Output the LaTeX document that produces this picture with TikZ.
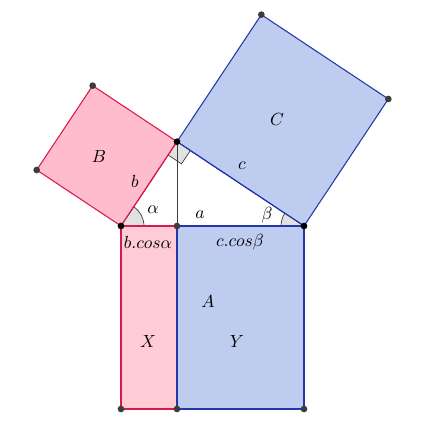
\documentclass[tikz,border=0pt]{standalone}
\usepackage{tikz}
\usetikzlibrary{calc}
\definecolor{sqPink}{RGB}{255,188,204}
\definecolor{sqPinkLight}{RGB}{255,204,214}
\definecolor{sqRed}{RGB}{215,25,75}
\definecolor{sqBlue}{RGB}{190,204,240}
\definecolor{sqBlueEdge}{RGB}{35,55,170}
\definecolor{dotGray}{RGB}{60,60,60}
\definecolor{markGray}{RGB}{225,225,225}

\begin{document}
\begin{tikzpicture}[x=0.02cm, y=0.02cm,
  redsq/.style={fill=sqPink, draw=sqRed, line width=0.6pt, line join=round},
  bluesq/.style={fill=sqBlue, draw=sqBlueEdge, line width=0.6pt, line join=round},
  anglemark/.style={fill=markGray, draw=dotGray, line width=0.4pt},
  pt/.style={circle, fill=dotGray, inner sep=0pt, minimum size=3.8pt},
  ptdark/.style={circle, fill=black, inner sep=0pt, minimum size=3.8pt}]
\useasboundingbox (0,0) rectangle (427,435);
% triangle and foot of altitude
\coordinate (L) at (121,209);
\coordinate (R) at (304,209);
\coordinate (H) at (177,209);
\coordinate (P) at (177,293.33);
% outer corners of the squares
\coordinate (B1) at ($(L)!1!90:(P)$);
\coordinate (B2) at ($(P)!1!-90:(L)$);
\coordinate (C1) at ($(P)!1!90:(R)$);
\coordinate (C2) at ($(R)!1!-90:(P)$);
\coordinate (XL) at (121,26);
\coordinate (XR) at (177,26);
\coordinate (YR) at (304,26);
% squares
\draw[redsq] (L) -- (P) -- (B2) -- (B1) -- cycle;
\draw[bluesq] (P) -- (R) -- (C2) -- (C1) -- cycle;
\draw[redsq, fill=sqPinkLight] (L) -- (H) -- (XR) -- (XL) -- cycle;
\draw[bluesq] (H) -- (R) -- (YR) -- (XR) -- cycle;
% angle marks
\draw[anglemark] (L) -- ($(L)!0.46cm!(R)$) arc[start angle=0, end angle=56.4, radius=0.46cm] -- cycle;
\draw[anglemark] (R) -- ($(R)!0.46cm!(L)$) arc[start angle=180, end angle=146.4, radius=0.46cm] -- cycle;
\coordinate (PL) at ($(P)!0.32cm!(L)$);
\coordinate (PR) at ($(P)!0.32cm!(R)$);
\draw[anglemark] (P) -- (PL) -- ($(PL)+(PR)-(P)$) -- (PR) -- cycle;
% sides again on top of the marks
\draw[sqRed, line width=0.6pt] (L) -- (P);
\draw[sqBlueEdge, line width=0.6pt] (P) -- (R);
\draw[sqRed, line width=0.6pt] (L) -- (H);
\draw[sqBlueEdge, line width=0.6pt] (H) -- (R);
\draw[dotGray, line width=0.5pt] (P) -- (H);
% labels
\node at (153,225) {$\alpha$};
\node at (267,220) {$\beta$};
\node at (135,254) {$b$};
\node at (242,269) {$c$};
\node at (200,220) {$a$};
\node at (99,278) {$B$};
\node at (277,315) {$C$};
\node at (148,193) {$b.cos\alpha$};
\node at (240,193) {$c.cos\beta$};
\node at (208,133) {$A$};
\node at (148,94) {$X$};
\node at (237,94) {$Y$};
% points
\foreach \p in {B1,B2,C1,C2,H,XL,XR,YR}
  \node[pt] at (\p) {};
\foreach \p in {L,R,P}
  \node[ptdark] at (\p) {};
\end{tikzpicture}
\end{document}
